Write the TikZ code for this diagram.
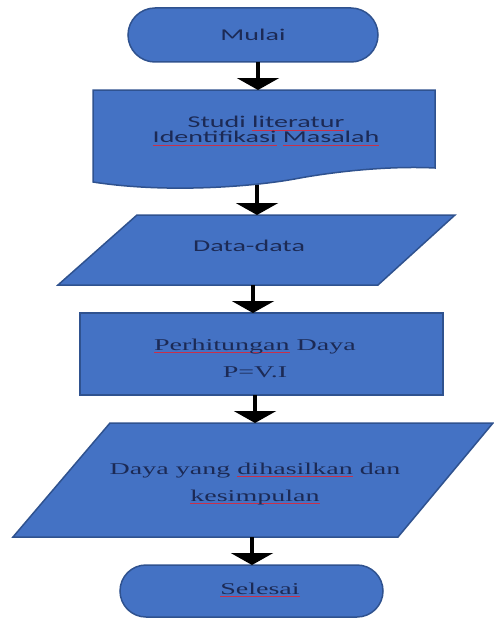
\documentclass[tikz,border=0pt]{standalone}
\usepackage{fontspec}
\setmainfont{Liberation Serif}
\newfontfamily\tnr{Liberation Serif}
\newfontfamily\carl{Carlito}
\usepackage{graphicx}
\usetikzlibrary{arrows.meta}
\definecolor{boxfill}{HTML}{4472C4}
\definecolor{boxline}{HTML}{2F528F}
\definecolor{txt}{HTML}{1C2A55}
\definecolor{spell}{HTML}{C8304A}
\newcommand\sx[1]{\scalebox{1.7}[1]{#1}}
\newsavebox\myulbox
\newcommand\redul[1]{\sbox\myulbox{#1}\rlap{\textcolor{spell}{\rule[-2.5pt]{\wd\myulbox}{0.8pt}}}\usebox\myulbox}
\begin{document}
\begin{tikzpicture}[x=1pt,y=-1pt,
  box/.style={fill=boxfill,draw=boxline,line width=1.5pt},
  arr/.style={line width=4.5pt,-{Triangle[width=42pt,length=12pt]}},
  lbl/.style={text=txt,inner sep=0pt,align=center},
  sans/.style={lbl,font=\carl\fontsize{16.5}{15}\selectfont},
  serif/.style={lbl,font=\tnr\fontsize{16.5}{27}\selectfont}]
\useasboundingbox (0,0) rectangle (494,618);
% shapes
\draw[box,rounded corners=27pt] (128,8) rectangle (378,62);
\draw[box] (93,90) -- (435,90) -- (435,168)
  .. controls (395,166) and (345,170) .. (300,178)
  .. controls (260,186) and (170,194) .. (93,182) -- cycle;
\draw[box] (137,215) -- (455,215) -- (378,285) -- (58,285) -- cycle;
\draw[box] (80,313) rectangle (443,395);
\draw[box] (110,423) -- (493,423) -- (398,537) -- (13,537) -- cycle;
\draw[box,rounded corners=26pt] (120,565) rectangle (383,617);
% texts
\node[sans] (mulai) at (253,35) {\sx{Mulai}};
\node[sans] (studi) at (266,131)
  {\sx{Studi \redul{literatur}}\\\sx{\redul{Identifikasi} \redul{Masalah}}};
\node[sans] (data) at (249,246) {\sx{Data-data}};
\node[serif] (hitung) at (255,358)
  {\sx{\redul{Perhitungan} Daya}\\\sx{P=V.I}};
\node[serif] (hasil) at (255,484)
  {\sx{Daya yang \redul{dihasilkan} dan}\\\sx{\redul{kesimpulan}}};
\node[serif] (selesai) at (260,590) {\sx{\redul{Selesai}}};
% connector ends
\coordinate (a1s) at (258,62);  \coordinate (a1e) at (258,90);
\coordinate (a2s) at (257,185); \coordinate (a2e) at (257,215);
\coordinate (a3s) at (253,285); \coordinate (a3e) at (253,313);
\coordinate (a4s) at (255,395); \coordinate (a4e) at (255,423);
\coordinate (a5s) at (252,537); \coordinate (a5e) at (252,565);
\draw[arr] (a1s) -- (a1e);
\draw[arr] (a2s) -- (a2e);
\draw[arr] (a3s) -- (a3e);
\draw[arr] (a4s) -- (a4e);
\draw[arr] (a5s) -- (a5e);
\end{tikzpicture}
\end{document}
